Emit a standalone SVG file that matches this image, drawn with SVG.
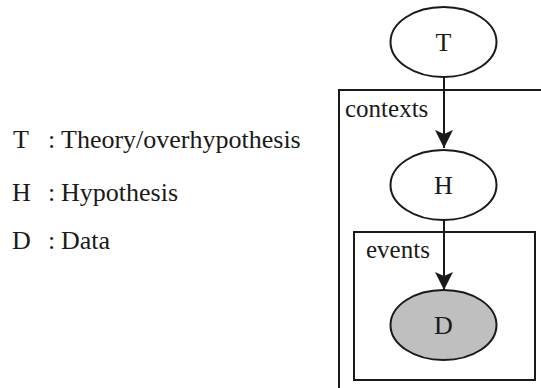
<svg xmlns="http://www.w3.org/2000/svg" width="541" height="388" viewBox="0 0 541 388">
<style>
text{font-family:'Liberation Serif','DejaVu Serif',serif;font-size:25px;fill:#1a1a1a}
.lg{font-size:26px}
.node ellipse{stroke:#1a1a1a;stroke-width:2}
.plate{fill:none;stroke:#1a1a1a;stroke-width:2}
.edge{stroke:#1a1a1a;stroke-width:2;fill:none}
.c{text-anchor:middle;font-size:26px}
</style>
<defs>
<marker id="ah" markerUnits="userSpaceOnUse" markerWidth="20" markerHeight="18" refX="18" refY="9" orient="auto">
<path d="M0,0 L18,9 L0,18 L4,9 Z" fill="#1a1a1a"/>
</marker>
</defs>
<g id="legend">
<text class="lg" font-family="Liberation Serif, serif" y="148"><tspan x="13">T</tspan><tspan x="48">:</tspan><tspan x="61">Theory/overhypothesis</tspan></text>
<text class="lg" font-family="Liberation Serif, serif" y="201"><tspan x="12">H</tspan><tspan x="48">:</tspan><tspan x="61">Hypothesis</tspan></text>
<text class="lg" font-family="Liberation Serif, serif" y="249"><tspan x="12">D</tspan><tspan x="48">:</tspan><tspan x="61">Data</tspan></text>
</g>
<g id="plate-contexts">
<rect class="plate" x="339" y="90" width="220" height="320"/>
<text font-family="Liberation Serif, serif" x="345" y="117">contexts</text>
</g>
<g id="plate-events">
<rect class="plate" x="354" y="232" width="181" height="148"/>
<text font-family="Liberation Serif, serif" x="366" y="258">events</text>
</g>
<g id="connectors">
<line class="edge" x1="444" y1="77" x2="444" y2="148" marker-end="url(#ah)"/>
<line class="edge" x1="444" y1="220" x2="444" y2="290" marker-end="url(#ah)"/>
</g>
<g id="node-T" class="node">
<ellipse cx="443.5" cy="42" rx="53" ry="35" fill="#fff"/>
<text font-family="Liberation Serif, serif" class="c" x="443.5" y="51">T</text>
</g>
<g id="node-H" class="node">
<ellipse cx="443.5" cy="185" rx="53" ry="35" fill="#fff"/>
<text font-family="Liberation Serif, serif" class="c" x="443.5" y="194">H</text>
</g>
<g id="node-D" class="node">
<ellipse cx="443.5" cy="325" rx="53" ry="35" fill="#bfbfbf"/>
<text font-family="Liberation Serif, serif" class="c" x="443.5" y="334">D</text>
</g>
</svg>
